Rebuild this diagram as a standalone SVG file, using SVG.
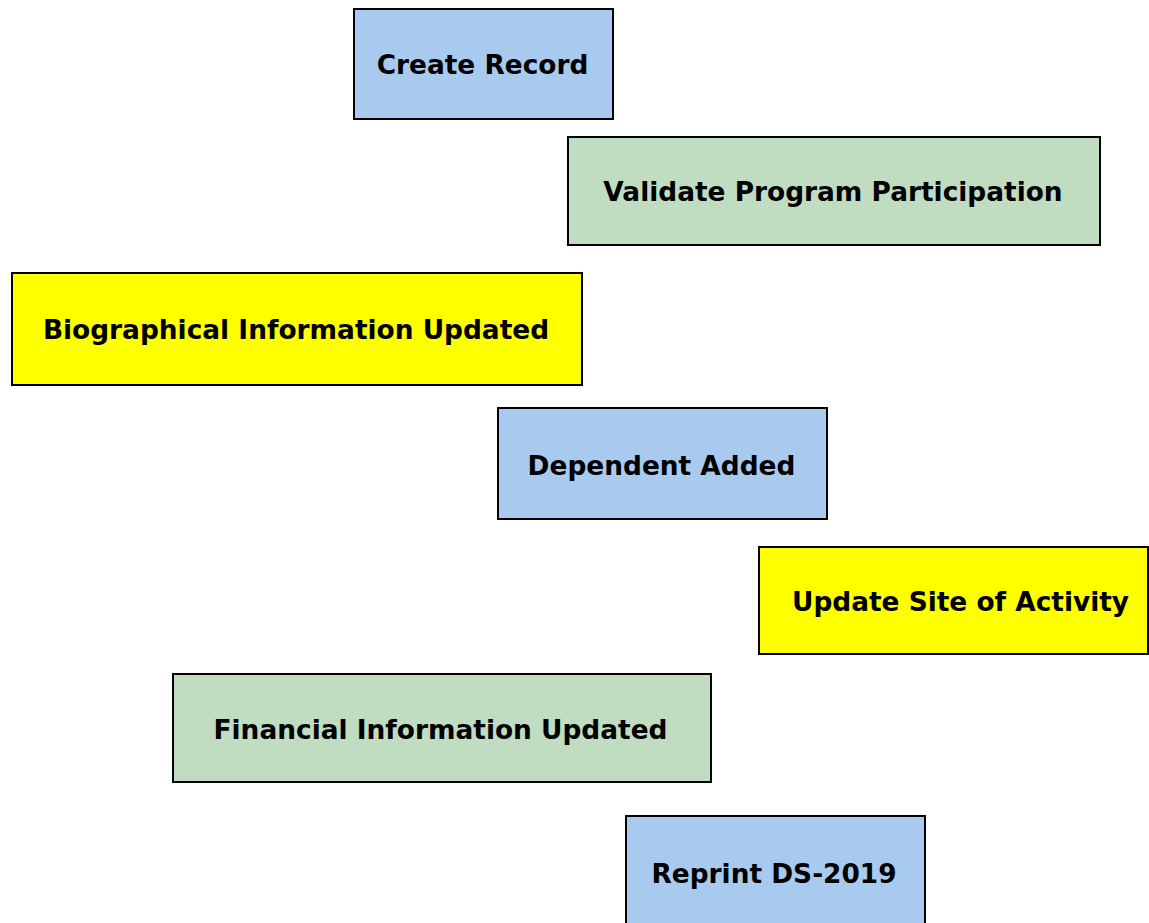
<svg xmlns="http://www.w3.org/2000/svg" width="1149" height="923" viewBox="0 0 1149 923">
  <style>
    .box { stroke: #000000; stroke-width: 2; }
    .blue { fill: #A9CAEF; }
    .green { fill: #C0DDC2; }
    .yellow { fill: #FFFF00; }
    .label { font-family: "DejaVu Sans", Verdana, sans-serif; font-weight: bold; font-size: 26.4px; fill: #000000; text-anchor: middle; dominant-baseline: central; }
  </style>
  <rect width="1149" height="923" fill="#FFFFFF"/>
  <g id="connectors"></g>
  <g id="create-record">
    <rect class="box blue" x="354" y="9" width="259" height="110"/>
    <text class="label" x="482.5" y="64">Create Record</text>
  </g>
  <g id="validate-program-participation">
    <rect class="box green" x="568" y="137" width="532" height="108"/>
    <text class="label" x="833" y="191">Validate Program Participation</text>
  </g>
  <g id="biographical-information-updated">
    <rect class="box yellow" x="12" y="273" width="570" height="112"/>
    <text class="label" x="296" y="329">Biographical Information Updated</text>
  </g>
  <g id="dependent-added">
    <rect class="box blue" x="498" y="408" width="329" height="111"/>
    <text class="label" x="661.5" y="465">Dependent Added</text>
  </g>
  <g id="update-site-of-activity">
    <rect class="box yellow" x="759" y="547" width="389" height="107"/>
    <text class="label" x="960.5" y="601">Update Site of Activity</text>
  </g>
  <g id="financial-information-updated">
    <rect class="box green" x="173" y="674" width="538" height="108"/>
    <text class="label" x="440.5" y="729">Financial Information Updated</text>
  </g>
  <g id="reprint-ds-2019">
    <rect class="box blue" x="626" y="816" width="299" height="112"/>
    <text class="label" x="774" y="873">Reprint DS-2019</text>
  </g>
</svg>
